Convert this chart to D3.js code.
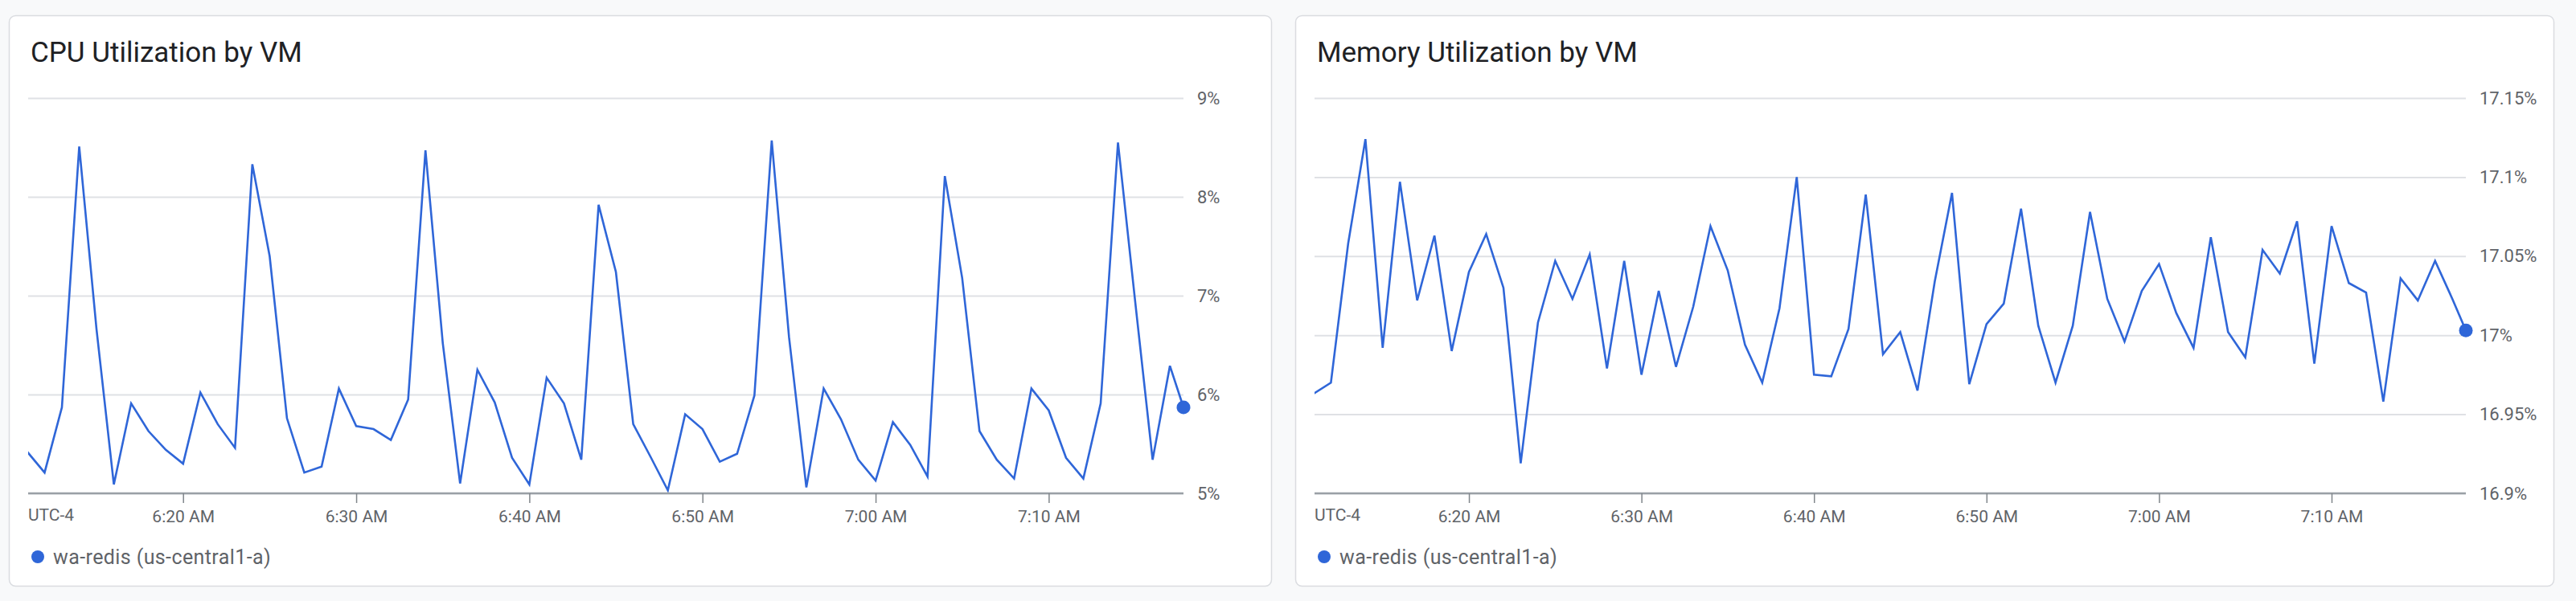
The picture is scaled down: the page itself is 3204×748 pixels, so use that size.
<!DOCTYPE html>
<html>
<head>
<meta charset="utf-8">
<script src="https://cdn.jsdelivr.net/npm/d3@7/dist/d3.min.js"></script>
<style>
  html, body { margin: 0; padding: 0; background: #f8f9fa; }
  svg { display: block; font-family: Roboto, "Noto Sans", sans-serif; }
</style>
</head>
<body>
<svg id="chart" width="3204" height="748"></svg>
<script>
// ---------- DATA ----------
const chartTitles = ["CPU Utilization by VM", "Memory Utilization by VM"];
const seriesName = "wa-redis (us-central1-a)";
const timezoneLabel = "UTC-4";

// one sample per minute, starting 6:11 AM; the last sample is the partial minute at 7:17:47
const sampleStart = [6, 11, 0];
const lastSample = [7, 17, 47];
const windowStart = [6, 11, 3];

const cpuValues = [
  5.42, 5.21, 5.87, 8.51, 6.66, 5.09, 5.91, 5.63, 5.44, 5.30,
  6.02, 5.70, 5.46, 8.33, 7.40, 5.76, 5.21, 5.27, 6.06, 5.68,
  5.65, 5.54, 5.95, 8.47, 6.52, 5.10, 6.25, 5.92, 5.36, 5.09,
  6.17, 5.91, 5.34, 7.92, 7.24, 5.70, 5.37, 5.03, 5.80, 5.65,
  5.32, 5.40, 5.99, 8.57, 6.58, 5.06, 6.06, 5.75, 5.34, 5.13,
  5.72, 5.49, 5.17, 8.21, 7.18, 5.63, 5.34, 5.15, 6.06, 5.84,
  5.36, 5.15, 5.91, 8.55, 6.93, 5.34, 6.29, 5.87
];

const memValues = [
  16.963, 16.970, 17.058, 17.124, 16.992, 17.097, 17.022, 17.063, 16.990, 17.040,
  17.064, 17.030, 16.919, 17.008, 17.047, 17.023, 17.051, 16.979, 17.047, 16.975,
  17.028, 16.980, 17.018, 17.069, 17.041, 16.994, 16.970, 17.017, 17.100, 16.975,
  16.974, 17.004, 17.089, 16.988, 17.002, 16.965, 17.034, 17.090, 16.969, 17.007,
  17.020, 17.080, 17.006, 16.970, 17.006, 17.078, 17.023, 16.996, 17.028, 17.045,
  17.014, 16.992, 17.062, 17.002, 16.986, 17.054, 17.039, 17.072, 16.982, 17.069,
  17.033, 17.027, 16.958, 17.036, 17.022, 17.047, 17.023, 17.003
];

const cpuTicks = [5, 6, 7, 8, 9];
const cpuTickLabels = ["5%", "6%", "7%", "8%", "9%"];
const memTicks = [16.9, 16.95, 17.0, 17.05, 17.1, 17.15];
const memTickLabels = ["16.9%", "16.95%", "17%", "17.05%", "17.1%", "17.15%"];

// ---------- LAYOUT ----------
const day = [2024, 0, 15];
const mk = (hms) => new Date(day[0], day[1], day[2], hms[0], hms[1], hms[2]);

function buildTimes(n) {
  const t = [];
  const s = mk(sampleStart);
  for (let i = 0; i < n - 1; i++) t.push(d3.timeMinute.offset(s, i));
  t.push(mk(lastSample));
  return t;
}

const panels = [
  { title: chartTitles[0], values: cpuValues, ticks: cpuTicks, labels: cpuTickLabels,
    domain: [5, 9], cardX: 11, cardW: 1571 },
  { title: chartTitles[1], values: memValues, ticks: memTicks, labels: memTickLabels,
    domain: [16.9, 17.15], cardX: 1611, cardW: 1566 }
];

const cardY = 19, cardH = 711;
const plotTop = 122, plotBottom = 614;
const lineColor = "#2f66d8";

const svg = d3.select("#chart");
svg.append("rect").attr("width", 3204).attr("height", 748).attr("fill", "#f8f9fa");

panels.forEach((p, pi) => {
  const g = svg.append("g");
  g.append("rect")
    .attr("x", p.cardX + 0.5).attr("y", cardY + 0.5)
    .attr("width", p.cardW - 1).attr("height", cardH - 1)
    .attr("rx", 8).attr("ry", 8)
    .attr("fill", "#ffffff").attr("stroke", "#dadce0").attr("stroke-width", 1.5);

  g.append("text")
    .attr("x", p.cardX + 27).attr("y", 77)
    .attr("font-size", 35).attr("fill", "#202124")
    .text(p.title);

  const left = p.cardX + 24;
  const right = p.cardX + p.cardW - 110;

  const times = buildTimes(p.values.length);
  const x = d3.scaleTime().domain([mk(windowStart), mk(lastSample)]).range([left, right]);
  const y = d3.scaleLinear().domain(p.domain).range([plotBottom, plotTop]);

  // gridlines + right labels
  const yAxis = d3.axisRight(y)
    .tickValues(p.ticks)
    .tickSize(-(right - left))
    .tickPadding(17)
    .tickFormat((d, i) => p.labels[i]);
  const ya = g.append("g").attr("transform", `translate(${right},0)`).call(yAxis);
  ya.select(".domain").remove();
  ya.selectAll(".tick line").attr("stroke", "#dfe1e5").attr("stroke-width", 2);
  ya.selectAll(".tick text")
    .attr("font-size", 22).attr("fill", "#5f6368")
    .attr("font-family", "Roboto, sans-serif");

  // line
  const clipId = "clip" + pi;
  g.append("clipPath").attr("id", clipId)
    .append("rect").attr("x", left).attr("y", plotTop - 20)
    .attr("width", right - left + 1).attr("height", plotBottom - plotTop + 40);

  const data = p.values.map((v, i) => ({ t: times[i], v }));
  const line = d3.line().x(d => x(d.t)).y(d => y(d.v));
  g.append("path").datum(data)
    .attr("clip-path", `url(#${clipId})`)
    .attr("fill", "none").attr("stroke", lineColor)
    .attr("stroke-width", 2.6).attr("stroke-linejoin", "miter")
    .attr("d", line);

  // bottom axis
  const xAxis = d3.axisBottom(x)
    .ticks(d3.timeMinute.every(10))
    .tickSize(12)
    .tickPadding(9)
    .tickFormat(d3.timeFormat("%-I:%M %p"));
  const xa = g.append("g").attr("transform", `translate(0,${plotBottom})`).call(xAxis);
  xa.select(".domain").attr("stroke", "#9aa0a6").attr("stroke-width", 2.5)
    .attr("d", `M${left},0H${right}`);
  xa.selectAll(".tick line").attr("stroke", "#80868b").attr("stroke-width", 1.5);
  xa.selectAll(".tick text")
    .attr("font-size", 21).attr("fill", "#5f6368")
    .attr("font-family", "Roboto, sans-serif");

  g.append("text")
    .attr("x", left).attr("y", 648)
    .attr("font-size", 21).attr("fill", "#5f6368")
    .text(timezoneLabel);

  // last point marker
  const last = data[data.length - 1];
  g.append("circle")
    .attr("cx", x(last.t)).attr("cy", y(last.v)).attr("r", 8.5)
    .attr("fill", lineColor);

  // legend
  g.append("circle").attr("cx", p.cardX + 36).attr("cy", 693).attr("r", 8).attr("fill", lineColor);
  g.append("text")
    .attr("x", p.cardX + 55).attr("y", 702)
    .attr("font-size", 25).attr("letter-spacing", 0.4).attr("fill", "#5f6368")
    .text(seriesName);
});
</script>
</body>
</html>
